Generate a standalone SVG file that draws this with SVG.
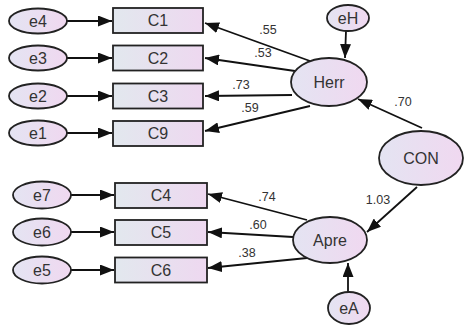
<svg xmlns="http://www.w3.org/2000/svg" width="471" height="328" viewBox="0 0 471 328">
<style>
.n{stroke:#222;stroke-width:1.8}
.el{fill:url(#ge)}
.bx{fill:url(#gb)}
.t{font-family:"Liberation Sans",Arial,sans-serif;font-size:16px;fill:#333;text-anchor:middle;dominant-baseline:central}
.l{font-family:"Liberation Sans",Arial,sans-serif;font-size:12.5px;fill:#333;text-anchor:middle}
.c{stroke:#111;stroke-width:1.8;fill:none;marker-end:url(#ah)}
</style>
<defs>
<linearGradient id="ge" x1="0" y1="0" x2="1" y2="0"><stop offset="0" stop-color="#e4e4f2"/><stop offset="1" stop-color="#f0d8f0"/></linearGradient>
<linearGradient id="gb" x1="0" y1="0" x2="1" y2="0"><stop offset="0" stop-color="#e2e8ee"/><stop offset="1" stop-color="#eed8f0"/></linearGradient>
<marker id="ah" markerUnits="userSpaceOnUse" markerWidth="15" markerHeight="11" refX="14" refY="5.5" orient="auto"><path d="M0,0 L14,5.5 L0,11 Z" fill="#111"/></marker>
</defs>
<g id="connectors">
<line class="c" x1="67" y1="21" x2="112" y2="21"/>
<line class="c" x1="67" y1="58" x2="112" y2="58"/>
<line class="c" x1="67" y1="96" x2="112" y2="96"/>
<line class="c" x1="67" y1="133" x2="112" y2="133"/>
<line class="c" x1="71" y1="195" x2="114" y2="195"/>
<line class="c" x1="71" y1="232" x2="114" y2="232"/>
<line class="c" x1="71" y1="270" x2="114" y2="270"/>
<line class="c" x1="310" y1="61" x2="205" y2="23"/>
<line class="c" x1="295" y1="71" x2="205" y2="58"/>
<line class="c" x1="292" y1="95" x2="205" y2="96"/>
<line class="c" x1="310" y1="106" x2="205" y2="131"/>
<line class="c" x1="307" y1="220" x2="208" y2="194"/>
<line class="c" x1="293" y1="237" x2="208" y2="232"/>
<line class="c" x1="307" y1="258" x2="208" y2="268"/>
<line class="c" x1="346" y1="31" x2="345" y2="58"/>
<line class="c" x1="348" y1="292" x2="348" y2="263"/>
<line class="c" x1="422" y1="128" x2="358" y2="99"/>
<line class="c" x1="417" y1="187" x2="367" y2="232"/>
<text class="l" x="268" y="34">.55</text>
<text class="l" x="263" y="57">.53</text>
<text class="l" x="241" y="89">.73</text>
<text class="l" x="250" y="112">.59</text>
<text class="l" x="403" y="106">.70</text>
<text class="l" x="267" y="201">.74</text>
<text class="l" x="258" y="229">.60</text>
<text class="l" x="247" y="257">.38</text>
<text class="l" x="378" y="204">1.03</text>
</g>
<g id="e4"><ellipse class="n el" cx="38" cy="21" rx="29" ry="12.5"/><text class="t" x="38" y="21">e4</text></g>
<g id="e3"><ellipse class="n el" cx="38" cy="58" rx="29" ry="12.5"/><text class="t" x="38" y="58">e3</text></g>
<g id="e2"><ellipse class="n el" cx="38" cy="96" rx="29" ry="12.5"/><text class="t" x="38" y="96">e2</text></g>
<g id="e1"><ellipse class="n el" cx="38" cy="133" rx="29" ry="12.5"/><text class="t" x="38" y="133">e1</text></g>
<g id="e7"><ellipse class="n el" cx="42" cy="195" rx="29" ry="13.5"/><text class="t" x="42" y="195">e7</text></g>
<g id="e6"><ellipse class="n el" cx="42" cy="232" rx="29" ry="13.5"/><text class="t" x="42" y="232">e6</text></g>
<g id="e5"><ellipse class="n el" cx="42" cy="270" rx="29" ry="13.5"/><text class="t" x="42" y="270">e5</text></g>
<g id="C1"><rect class="n bx" x="113" y="8" width="90" height="25"/><text class="t" x="158" y="20.5">C1</text></g>
<g id="C2"><rect class="n bx" x="113" y="45.5" width="90" height="25"/><text class="t" x="158" y="58">C2</text></g>
<g id="C3"><rect class="n bx" x="113" y="83.5" width="90" height="25"/><text class="t" x="158" y="96">C3</text></g>
<g id="C9"><rect class="n bx" x="113" y="121" width="90" height="25"/><text class="t" x="158" y="133.5">C9</text></g>
<g id="C4"><rect class="n bx" x="115" y="183" width="92" height="25"/><text class="t" x="161" y="195.5">C4</text></g>
<g id="C5"><rect class="n bx" x="115" y="220" width="92" height="25"/><text class="t" x="161" y="232.5">C5</text></g>
<g id="C6"><rect class="n bx" x="115" y="257.5" width="92" height="25"/><text class="t" x="161" y="270">C6</text></g>
<g id="Herr"><ellipse class="n el" cx="329" cy="82" rx="38" ry="24"/><text class="t" x="329" y="82">Herr</text></g>
<g id="eH"><ellipse class="n el" cx="348" cy="18" rx="21" ry="13"/><text class="t" x="348" y="18">eH</text></g>
<g id="CON"><ellipse class="n el" cx="421" cy="158" rx="42" ry="27"/><text class="t" x="421" y="158">CON</text></g>
<g id="Apre"><ellipse class="n el" cx="330" cy="240" rx="37" ry="23"/><text class="t" x="330" y="240">Apre</text></g>
<g id="eA"><ellipse class="n el" cx="349" cy="308" rx="21" ry="16"/><text class="t" x="349" y="308">eA</text></g>
</svg>
